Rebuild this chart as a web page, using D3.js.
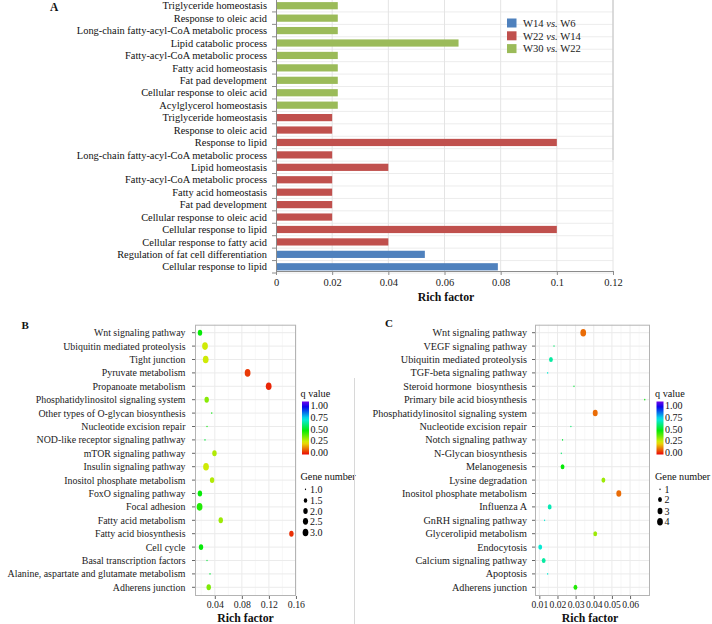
<!DOCTYPE html>
<html>
<head>
<meta charset="utf-8">
<script src="https://cdn.jsdelivr.net/npm/d3@7"></script>
<style>
  html, body { margin: 0; padding: 0; background: #fff; }
  svg { display: block; font-family: "Liberation Serif", "Times New Roman", serif; }
</style>
</head>
<body>
<svg id="chart" width="712" height="624"></svg>
<script>
// ---------------- Panel A data ----------------
const aCategories = [
  "Triglyceride homeostasis", "Response to oleic acid", "Long-chain fatty-acyl-CoA metabolic process",
  "Lipid catabolic process", "Fatty-acyl-CoA metabolic process", "Fatty acid homeostasis",
  "Fat pad development", "Cellular response to oleic acid", "Acylglycerol homeostasis",
  "Triglyceride homeostasis", "Response to oleic acid", "Response to lipid",
  "Long-chain fatty-acyl-CoA metabolic process", "Lipid homeostasis", "Fatty-acyl-CoA metabolic process",
  "Fatty acid homeostasis", "Fat pad development", "Cellular response to oleic acid",
  "Cellular response to lipid", "Cellular response to fatty acid",
  "Regulation of fat cell differentiation", "Cellular response to lipid"
];
const aValues = [0.022, 0.022, 0.022, 0.065, 0.022, 0.022, 0.022, 0.022, 0.022,
                 0.02, 0.02, 0.1, 0.02, 0.04, 0.02, 0.02, 0.02, 0.02, 0.1, 0.04,
                 0.053, 0.079];
const aGroups = ["W30", "W30", "W30", "W30", "W30", "W30", "W30", "W30", "W30",
                 "W22", "W22", "W22", "W22", "W22", "W22", "W22", "W22", "W22", "W22", "W22",
                 "W14", "W14"];
const aLegendKeys = ["W14", "W22", "W30"];
const aLegendA = ["W14", "W22", "W30"];
const aLegendB = ["W6", "W14", "W22"];
const aColors = ["#4f81bd", "#c0504d", "#9bbb59"];
const aTicks = [0, 0.02, 0.04, 0.06, 0.08, 0.1, 0.12];

// ---------------- Panel B data ----------------
const bPathways = [
  "Wnt signaling pathway", "Ubiquitin mediated proteolysis", "Tight junction", "Pyruvate metabolism",
  "Propanoate metabolism", "Phosphatidylinositol signaling system", "Other types of O-glycan biosynthesis",
  "Nucleotide excision repair", "NOD-like receptor signaling pathway", "mTOR signaling pathway",
  "Insulin signaling pathway", "Inositol phosphate metabolism", "FoxO signaling pathway", "Focal adhesion",
  "Fatty acid metabolism", "Fatty acid biosynthesis", "Cell cycle", "Basal transcription factors",
  "Alanine, aspartate and glutamate metabolism", "Adherens junction"
];
const bRich = [0.0181, 0.0255, 0.0265, 0.0885, 0.1197, 0.028, 0.0355, 0.0285, 0.0255, 0.0395,
               0.027, 0.036, 0.018, 0.0175, 0.0488, 0.1533, 0.0196, 0.0285, 0.0329, 0.031];
const bQ = [0.45, 0.25, 0.25, 0.05, 0.03, 0.32, 0.45, 0.45, 0.5, 0.28,
            0.25, 0.28, 0.45, 0.42, 0.3, 0.04, 0.45, 0.5, 0.5, 0.33];
const bGenes = [2, 3, 3, 3, 3, 2, 1, 1, 1, 2, 3, 2, 2, 3, 2, 2, 2, 1, 1, 2];
const bTicks = [0.04, 0.08, 0.12, 0.16];
const bSizeKeys = [1.0, 1.5, 2.0, 2.5, 3.0];

// ---------------- Panel C data ----------------
const cPathways = [
  "Wnt signaling pathway", "VEGF signaling pathway", "Ubiquitin mediated proteolysis",
  "TGF-beta signaling pathway", "Steroid hormone  biosynthesis", "Primary bile acid biosynthesis",
  "Phosphatidylinositol signaling system", "Nucleotide excision repair", "Notch signaling pathway",
  "N-Glycan biosynthesis", "Melanogenesis", "Lysine degradation", "Inositol phosphate metabolism",
  "Influenza A", "GnRH signaling pathway", "Glycerolipid metabolism", "Endocytosis",
  "Calcium signaling pathway", "Apoptosis", "Adherens junction"
];
const cRich = [0.0342, 0.0181, 0.0164, 0.0146, 0.0291, 0.0681, 0.0408, 0.0274, 0.0228, 0.0221,
               0.0228, 0.0453, 0.0538, 0.0157, 0.0129, 0.0408, 0.0105, 0.0124, 0.0146, 0.0299];
const cQ = [0.1, 0.55, 0.6, 0.65, 0.5, 0.45, 0.1, 0.55, 0.5, 0.55,
            0.45, 0.3, 0.1, 0.62, 0.65, 0.3, 0.65, 0.6, 0.65, 0.42];
const cGenes = [4, 1, 2, 1, 1, 1, 3, 1, 1, 1, 2, 2, 3, 2, 1, 2, 2, 2, 1, 2];
const cTicks = [0.01, 0.02, 0.03, 0.04, 0.05, 0.06];
const cSizeKeys = [1, 2, 3, 4];

const qTicks = [0, 0.25, 0.5, 0.75, 1];

// ---------------- helpers ----------------
const svg = d3.select("#chart");
const FONT = '"Liberation Serif", "Times New Roman", serif';

// q value colour: rainbow red -> violet
const hueScale = d3.scaleLinear().domain([0, 1]).range([0, 268]);
const qColor = q => d3.hsl(hueScale(q), 0.95, 0.47).formatHex();

// ggplot-like continuous expansion (5%)
function expand(vals) {
  const [mn, mx] = d3.extent(vals);
  const pad = (mx - mn) * 0.05;
  return [mn - pad, mx + pad];
}

// ================= PANEL A =================
(function panelA() {
  const g = svg.append("g");
  const x = d3.scaleLinear().domain([0, 0.12]).range([276, 613]);
  const y = d3.scaleBand().domain(d3.range(aCategories.length)).range([-0.5, 273])
              .paddingInner(0.42).paddingOuter(0.21);
  const color = d3.scaleOrdinal().domain(aLegendKeys).range(aColors);
  const axisY = 271;

  const bounds = d3.range(aCategories.length).map(i => y(i) + y.bandwidth() / 2 + y.step() / 2);
  g.append("g").selectAll("line").data(bounds).join("line")
    .attr("x1", x(0)).attr("x2", x(0.12)).attr("y1", d => d).attr("y2", d => d)
    .attr("stroke", "#ececec").attr("stroke-width", 1);
  g.append("g").selectAll("line").data(aTicks.slice(1)).join("line")
    .attr("x1", d => x(d)).attr("x2", d => x(d)).attr("y1", 0).attr("y2", axisY)
    .attr("stroke", "#e4e4e4").attr("stroke-width", 1);
  g.append("line").attr("x1", x(0.12)).attr("x2", x(0.12)).attr("y1", 0).attr("y2", 160)
    .attr("stroke", "#c4c4c4");

  g.append("g").selectAll("rect").data(aValues).join("rect")
    .attr("x", x(0)).attr("y", (d, i) => y(i))
    .attr("width", d => x(d) - x(0)).attr("height", y.bandwidth())
    .attr("fill", (d, i) => color(aGroups[i]));

  g.append("line").attr("x1", x(0) + 0.5).attr("x2", x(0) + 0.5).attr("y1", 0).attr("y2", axisY)
    .attr("stroke", "#8c8c8c");
  g.append("g").selectAll("line").data(bounds).join("line")
    .attr("x1", x(0) - 4).attr("x2", x(0)).attr("y1", d => d).attr("y2", d => d)
    .attr("stroke", "#8c8c8c");

  g.append("g").selectAll("text").data(aCategories).join("text")
    .attr("x", 267).attr("y", (d, i) => y(i) + y.bandwidth() / 2)
    .attr("dy", "0.35em").attr("text-anchor", "end")
    .attr("font-size", 10.4).attr("fill", "#111").text(d => d);

  const ax = g.append("g").attr("transform", `translate(0,${axisY})`)
    .call(d3.axisBottom(x).tickValues(aTicks).tickSize(4).tickPadding(4)
      .tickFormat(d => d === 0 ? "0" : d3.format("~g")(d)));
  ax.select(".domain").attr("stroke", "#8c8c8c");
  ax.selectAll(".tick line").attr("stroke", "#8c8c8c");
  ax.selectAll(".tick text").attr("font-family", FONT).attr("font-size", 10.5).attr("fill", "#222");

  g.append("text").attr("x", 446).attr("y", 301).attr("text-anchor", "middle")
    .attr("font-weight", "bold").attr("font-size", 11.8).attr("fill", "#111").text("Rich factor");

  const lg = g.append("g");
  aLegendKeys.forEach((k, i) => {
    const cy = 23 + i * 12.8;
    lg.append("rect").attr("x", 507).attr("y", cy - 4.5).attr("width", 9.5).attr("height", 9)
      .attr("fill", color(k));
    const t = lg.append("text").attr("x", 523).attr("y", cy).attr("dy", "0.35em")
      .attr("font-size", 10.6).attr("fill", "#222");
    t.append("tspan").text(aLegendA[i] + " ");
    t.append("tspan").attr("font-style", "italic").text("vs.");
    t.append("tspan").text(" " + aLegendB[i]);
  });

  g.append("text").attr("x", 50).attr("y", 11).attr("font-weight", "bold")
    .attr("font-size", 11.5).attr("fill", "#111").text("A");
})();

// ================= Bubble panels =================
function bubblePanel(opts) {
  const g = svg.append("g");
  const { left, right, top, bottom, firstY, lastY } = opts;
  const x = d3.scaleLinear().domain(expand(opts.rich)).range([left, right]);
  const y = d3.scalePoint().domain(d3.range(opts.names.length)).range([firstY, lastY]);
  const [gMin, gMax] = d3.extent(opts.sizeKeys);
  const sizeT = d3.scaleLinear().domain([gMin, gMax]).range([0, 1]);
  const sizeS = d3.scaleSqrt().domain([0, 1]).range([1, 6]);
  const diam = gn => sizeS(sizeT(gn)) * 0.9 + 0.35;
  const stretch = 1.33;

  g.append("rect").attr("x", left).attr("y", top).attr("width", right - left).attr("height", bottom - top)
    .attr("fill", "#fff");
  const [d0, d1] = x.domain();
  const step = opts.ticks[1] - opts.ticks[0];
  const minor = [];
  for (let v = opts.ticks[0] - step / 2; v <= d1; v += step) if (v >= d0) minor.push(v);
  g.append("g").selectAll("line").data(minor).join("line")
    .attr("x1", d => x(d)).attr("x2", d => x(d)).attr("y1", top).attr("y2", bottom)
    .attr("stroke", "#f4f4f4").attr("stroke-width", 0.6);
  g.append("g").selectAll("line").data(opts.ticks.filter(t => t <= d1)).join("line")
    .attr("x1", d => x(d)).attr("x2", d => x(d)).attr("y1", top).attr("y2", bottom)
    .attr("stroke", "#ebebeb").attr("stroke-width", 1);
  g.append("g").selectAll("line").data(d3.range(opts.names.length)).join("line")
    .attr("x1", left).attr("x2", right).attr("y1", d => y(d)).attr("y2", d => y(d))
    .attr("stroke", "#ebebeb").attr("stroke-width", 1);

  g.append("g").selectAll("ellipse").data(opts.rich).join("ellipse")
    .attr("cx", d => x(d)).attr("cy", (d, i) => y(i))
    .attr("rx", (d, i) => diam(opts.genes[i]) / 2)
    .attr("ry", (d, i) => diam(opts.genes[i]) / 2 * stretch)
    .attr("fill", (d, i) => qColor(opts.q[i]));

  g.append("rect").attr("x", left + 0.5).attr("y", top + 0.5)
    .attr("width", right - left - 1).attr("height", bottom - top - 1)
    .attr("fill", "none").attr("stroke", "#b4b4b4").attr("stroke-width", 1);

  g.append("g").selectAll("line").data(d3.range(opts.names.length)).join("line")
    .attr("x1", left - 3).attr("x2", left).attr("y1", d => y(d)).attr("y2", d => y(d))
    .attr("stroke", "#666");
  g.append("g").selectAll("text").data(opts.names).join("text")
    .attr("x", opts.labelX).attr("y", (d, i) => y(i)).attr("dy", "0.35em")
    .attr("text-anchor", "end").attr("font-size", opts.labelSize).attr("fill", "#1a1a1a")
    .attr("xml:space", "preserve").text(d => d);

  const ax = g.append("g").attr("transform", `translate(0,${bottom})`)
    .call(d3.axisBottom(x).tickValues(opts.ticks).tickSize(3).tickPadding(2.5)
      .tickFormat(d3.format(".2f")));
  ax.select(".domain").remove();
  ax.selectAll(".tick line").attr("stroke", "#666");
  ax.selectAll(".tick text").attr("font-family", FONT).attr("font-size", opts.tickSize).attr("fill", "#222");

  g.append("text").attr("x", opts.titleX).attr("y", 622).attr("text-anchor", "middle")
    .attr("font-weight", "bold").attr("font-size", 11.8).attr("fill", "#111").text("Rich factor");

  g.append("text").attr("x", opts.letterX).attr("y", opts.letterY).attr("font-weight", "bold")
    .attr("font-size", 11).attr("fill", "#111").text(opts.letter);

  const lx = opts.legendX;
  g.append("text").attr("x", lx).attr("y", 396.5).attr("font-size", 10.2).attr("fill", "#111").text("q value");
  const gradId = "grad" + opts.letter;
  const grad = svg.append("defs").append("linearGradient").attr("id", gradId)
    .attr("x1", 0).attr("y1", 1).attr("x2", 0).attr("y2", 0);
  d3.range(0, 1.0001, 0.05).forEach(t => {
    grad.append("stop").attr("offset", t).attr("stop-color", qColor(t));
  });
  const barTop = 401.5, barBot = 454.5;
  const qy = d3.scaleLinear().domain([0, 1]).range([452.5, 405.5]);
  g.append("rect").attr("x", lx + 1.5).attr("y", barTop).attr("width", 7).attr("height", barBot - barTop)
    .attr("fill", `url(#${gradId})`);
  g.append("g").selectAll("text").data(qTicks).join("text")
    .attr("x", lx + 10).attr("y", d => qy(d)).attr("dy", "0.35em")
    .attr("font-size", 10).attr("fill", "#111").text(d => d3.format(".2f")(d));

  g.append("text").attr("x", lx).attr("y", 480).attr("font-size", 10.2).attr("fill", "#111").text("Gene number");
  opts.sizeKeys.forEach((k, i) => {
    const cy = opts.keyY[i];
    g.append("ellipse").attr("cx", lx + 5).attr("cy", cy)
      .attr("rx", diam(k) / 2).attr("ry", diam(k) / 2 * stretch).attr("fill", "#000");
    g.append("text").attr("x", lx + 9.5).attr("y", cy).attr("dy", "0.35em")
      .attr("font-size", 10).attr("fill", "#111").text(opts.keyFormat(k));
  });
}

bubblePanel({
  letter: "B", letterX: 21.5, letterY: 328.5,
  names: bPathways, rich: bRich, q: bQ, genes: bGenes, ticks: bTicks,
  sizeKeys: bSizeKeys, keyY: [489.3, 500.5, 511, 521.3, 532.5], keyFormat: d3.format(".1f"),
  left: 195, right: 296, top: 324.7, bottom: 596, firstY: 332.7, lastY: 587.3,
  labelX: 185.5, labelSize: 9.9, tickSize: 9.8, titleX: 245.5, legendX: 300.5
});

bubblePanel({
  letter: "C", letterX: 385, letterY: 327,
  names: cPathways, rich: cRich, q: cQ, genes: cGenes, ticks: cTicks,
  sizeKeys: cSizeKeys, keyY: [489.3, 499.5, 511, 521.7], keyFormat: d3.format("d"),
  left: 535, right: 650, top: 324.7, bottom: 596, firstY: 332.7, lastY: 587.3,
  labelX: 527, labelSize: 10.2, tickSize: 9.6, titleX: 590, legendX: 655
});

svg.append("line").attr("x1", 354.5).attr("x2", 354.5).attr("y1", 378).attr("y2", 624)
  .attr("stroke", "#d8d8d8").attr("stroke-width", 1);
</script>
</body>
</html>
